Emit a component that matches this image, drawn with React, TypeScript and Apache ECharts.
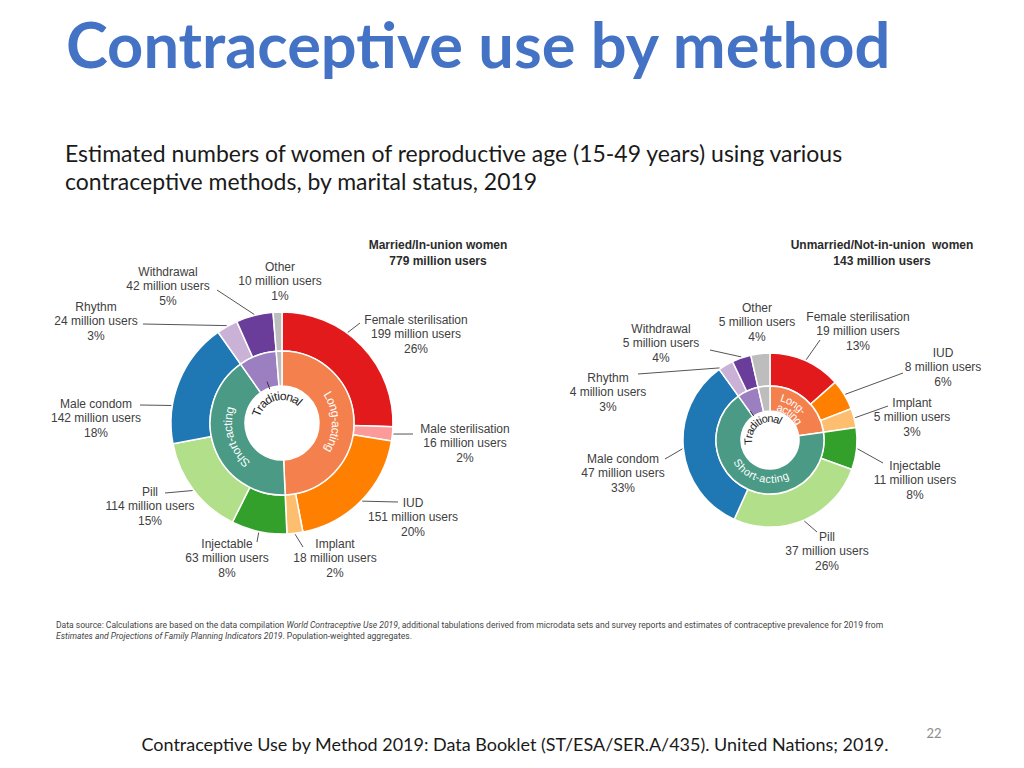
import React, { useEffect, useRef } from "react";
import * as echarts from "echarts";

// ---------- DATA ----------
const methods = [
  "Female sterilisation",
  "Male sterilisation",
  "IUD",
  "Implant",
  "Injectable",
  "Pill",
  "Male condom",
  "Rhythm",
  "Withdrawal",
  "Other",
];
const methodGroup = [
  "Long-acting", "Long-acting", "Long-acting", "Long-acting",
  "Short-acting", "Short-acting", "Short-acting",
  "Traditional", "Traditional", "Other",
];
const groups = ["Long-acting", "Short-acting", "Traditional", "Other"];

const marriedUsers = [199, 16, 151, 18, 63, 114, 142, 24, 42, 10];
const marriedPct = [26, 2, 20, 2, 8, 15, 18, 3, 5, 1];
const unmarriedUsers = [19, 0, 8, 5, 11, 37, 47, 4, 5, 5];
const unmarriedPct = [13, 0, 6, 3, 8, 26, 33, 3, 4, 4];

const marriedTitle = ["Married/In-union women", "779 million users"];
const unmarriedTitle = ["Unmarried/Not-in-union  women", "143 million users"];

const pageTitle = "Contraceptive use by method";
const subtitleLines = [
  "Estimated numbers of women of reproductive age (15-49 years) using various",
  "contraceptive methods, by marital status, 2019",
];
const sourceLine1: [string, boolean][] = [
  ["Data source: Calculations are based on the data compilation ", false],
  ["World Contraceptive Use 2019", true],
  [", additional tabulations derived from microdata sets and survey reports and estimates of contraceptive prevalence for 2019 from", false],
];
const sourceLine2: [string, boolean][] = [
  ["Estimates and Projections of Family Planning Indicators 2019", true],
  [". Population-weighted aggregates.", false],
];
const footer = "Contraceptive Use by Method 2019: Data Booklet (ST/ESA/SER.A/435). United Nations; 2019.";
const pageNumber = "22";

// ---------- STYLE / LAYOUT ----------
const methodColors = [
  "#e31a1c", "#fb9a99", "#ff7f00", "#fdbf6f", "#33a02c",
  "#b2df8a", "#1f78b4", "#cab2d6", "#6a3d9a", "#bdbdbd",
];
const groupColors = ["#f4804e", "#4a9a85", "#9b7fc0", "#bdbdbd"];

const LABEL_FONT = '12px "Liberation Sans", Arial, sans-serif';
const LABEL_COLOR = "#404040";
const LINE_COLOR = "#555555";

type LabelSpec = { x: number; y: number; end?: [number, number]; angle?: number };
type InnerText = { text: string; r: number; group: number; offset: number; inward?: boolean; color: string };
type ChartLayout = {
  cx: number; cy: number; radii: [number, number, number];
  titleX: number; titleY: number; innerFont: string;
  labels: (LabelSpec | null)[];
  innerTexts: InnerText[];
  tick: { angleOffset: number; r1: number; r2: number };
};

const marriedLayout: ChartLayout = {
  cx: 282, cy: 423, radii: [37, 72, 111],
  titleX: 438, titleY: 244,
  innerFont: '12px "Liberation Sans", Arial, sans-serif',
  labels: [
    { x: 416, y: 320, angle: 36, end: [360, 323] },
    { x: 465, y: 429, end: [413, 434] },
    { x: 413, y: 503, end: [398, 502] },
    { x: 335, y: 544, end: [303, 547] },
    { x: 227, y: 544, end: [257, 542] },
    { x: 150, y: 492, end: [165, 493] },
    { x: 96, y: 404, angle: 279, end: [140, 405] },
    { x: 96, y: 307, end: [143, 324] },
    { x: 168, y: 272, end: [217, 290] },
    { x: 280, y: 267 },
  ],
  innerTexts: [
    { text: "Long-acting", r: 54, group: 0, offset: 0, color: "#ffffff" },
    { text: "Short-acting", r: 54, group: 1, offset: 2, color: "#ffffff" },
    { text: "Traditional", r: 27, group: 2, offset: 4, color: "#222222" },
  ],
  tick: { angleOffset: 0, r1: 36, r2: 44 },
};

const unmarriedLayout: ChartLayout = {
  cx: 770, cy: 440, radii: [29, 54, 87],
  titleX: 882, titleY: 244,
  innerFont: '11px "Liberation Sans", Arial, sans-serif',
  labels: [
    { x: 858, y: 317, end: [820, 340] },
    null,
    { x: 943, y: 353, end: [903, 373] },
    { x: 912, y: 403, end: [888, 406] },
    { x: 915, y: 466, end: [883, 463] },
    { x: 827, y: 537, end: [817, 532] },
    { x: 623, y: 459, end: [665, 459] },
    { x: 608, y: 378, angle: 325, end: [638, 374] },
    { x: 661, y: 329, end: [710, 350] },
    { x: 757, y: 308 },
  ],
  innerTexts: [
    { text: "Long-", r: 44, group: 0, offset: -8, color: "#ffffff" },
    { text: "acting", r: 34, group: 0, offset: -4, color: "#ffffff" },
    { text: "Short-acting", r: 39, group: 1, offset: -7, inward: true, color: "#ffffff" },
    { text: "Traditional", r: 22, group: 2, offset: -11, color: "#222222" },
  ],
  tick: { angleOffset: -10, r1: 29, r2: 35 },
};

// ---------- HELPERS ----------
const measureCanvas = typeof document !== "undefined" ? document.createElement("canvas") : null;
const mctx = measureCanvas ? measureCanvas.getContext("2d") : null;

function textWidth(text: string, font: string) {
  if (!mctx) return text.length * 6;
  mctx.font = font;
  return mctx.measureText(text).width;
}

function fitSize(text: string, weight: string, family: string, target: number) {
  const w = textWidth(text, `${weight} 100px ${family}`);
  return (100 * target) / w;
}

const rad = (d: number) => (d * Math.PI) / 180;

function polar(cx: number, cy: number, r: number, deg: number): [number, number] {
  return [cx + r * Math.sin(rad(deg)), cy - r * Math.cos(rad(deg))];
}

function arcText(cx: number, cy: number, r: number, text: string, centerDeg: number, font: string, fill: string, inward = false) {
  const chars = Array.from(text);
  const widths = chars.map((ch) => textWidth(ch, font));
  const total = widths.reduce((a, b) => a + b, 0);
  const dir = inward ? -1 : 1;
  const c = rad(centerDeg);
  let acc = 0;
  const els: any[] = [];
  chars.forEach((ch, i) => {
    const mid = acc + widths[i] / 2;
    acc += widths[i];
    const th = c + (dir * (mid - total / 2)) / r;
    const x = cx + r * Math.sin(th);
    const y = cy - r * Math.cos(th);
    const rotation = inward ? Math.PI - th : -th;
    els.push({
      type: "text", x, y, rotation, z: 100, silent: true,
      style: { text: ch, font, fill, align: "center", verticalAlign: "middle", textAlign: "center", textVerticalAlign: "middle" },
    });
  });
  return els;
}

function sliceAngles(values: number[]) {
  const total = values.reduce((a, b) => a + b, 0);
  let acc = 0;
  return values.map((v) => {
    const s = (acc / total) * 360;
    acc += v;
    const e = (acc / total) * 360;
    return { start: s, end: e, mid: (s + e) / 2 };
  });
}

function buildChart(values: number[], pcts: number[], title: string[], L: ChartLayout) {
  const [r0, r1, r2] = L.radii;
  const groupValues = groups.map((g) =>
    values.reduce((s, v, i) => (methodGroup[i] === g ? s + v : s), 0)
  );
  const outerData = methods
    .map((m, i) => ({ name: m, value: values[i], itemStyle: { color: methodColors[i] } }))
    .filter((d) => d.value > 0);
  const innerData = groups.map((g, i) => ({ name: g, value: groupValues[i], itemStyle: { color: groupColors[i] } }));

  const common = {
    type: "pie",
    center: [L.cx, L.cy],
    startAngle: 90,
    clockwise: true,
    silent: true,
    label: { show: false },
    labelLine: { show: false },
    emphasis: { disabled: true },
    itemStyle: { borderColor: "#ffffff", borderWidth: 1.5 },
  };
  const series = [
    { ...common, name: title[0] + " methods", radius: [r1, r2], data: outerData },
    { ...common, name: title[0] + " groups", radius: [r0, r1], data: innerData },
  ];

  const outerAngles = sliceAngles(values);
  const innerAngles = sliceAngles(groupValues);
  const els: any[] = [];

  // chart title
  els.push({
    type: "text", x: L.titleX, y: L.titleY - 7, z: 100, silent: true,
    style: {
      text: title.join("\n"), font: 'bold 12px "Liberation Sans", Arial, sans-serif', lineHeight: 16,
      fill: "#2b2b2b", align: "center", verticalAlign: "top", textAlign: "center", textVerticalAlign: "top",
    },
  });

  // outer labels
  methods.forEach((m, i) => {
    const spec = L.labels[i];
    if (!spec || values[i] <= 0) return;
    els.push({
      type: "text", x: spec.x, y: spec.y - 7.5, z: 100, silent: true,
      style: {
        text: `${m}\n${values[i]} million users\n${pcts[i]}%`,
        font: LABEL_FONT, lineHeight: 14.6, fill: LABEL_COLOR,
        align: "center", verticalAlign: "top", textAlign: "center", textVerticalAlign: "top",
      },
    });
    if (spec.end) {
      const ang = spec.angle != null ? spec.angle : outerAngles[i].mid;
      const [sx, sy] = polar(L.cx, L.cy, r2 + 1, ang);
      els.push({
        type: "line", z: 100, silent: true,
        shape: { x1: sx, y1: sy, x2: spec.end[0], y2: spec.end[1] },
        style: { stroke: LINE_COLOR, lineWidth: 1 },
      });
    }
  });

  // inner ring curved texts
  L.innerTexts.forEach((t) => {
    const center = innerAngles[t.group].mid + t.offset;
    els.push(...arcText(L.cx, L.cy, t.r, t.text, center, L.innerFont, t.color, !!t.inward));
  });

  // traditional tick
  const tAng = innerAngles[2].mid + L.tick.angleOffset;
  const [ax, ay] = polar(L.cx, L.cy, L.tick.r1, tAng);
  const [bx, by] = polar(L.cx, L.cy, L.tick.r2, tAng);
  els.push({
    type: "line", z: 100, silent: true,
    shape: { x1: ax, y1: ay, x2: bx, y2: by },
    style: { stroke: "#333333", lineWidth: 1 },
  });

  return { series, els };
}

function richLine(segs: [string, boolean][], size: number, family: string, color: string) {
  return {
    text: segs.map(([s, it]) => `{${it ? "i" : "n"}|${s}}`).join(""),
    rich: {
      n: { fontSize: size, fontFamily: family, fill: color },
      i: { fontSize: size, fontFamily: family, fontStyle: "italic", fill: color },
    },
  };
}

function segWidth(segs: [string, boolean][], family: string) {
  return segs.reduce((s, [t, it]) => s + textWidth(t, `${it ? "italic " : ""}100px ${family}`), 0);
}

export default function App() {
  const ref = useRef<HTMLDivElement>(null);

  useEffect(() => {
    document.body.style.margin = "0";
    if (!ref.current) return;
    const chart = echarts.init(ref.current, undefined, { renderer: "svg" });

    const left = buildChart(marriedUsers, marriedPct, marriedTitle, marriedLayout);
    const right = buildChart(unmarriedUsers, unmarriedPct, unmarriedTitle, unmarriedLayout);

    const titleFamily = 'Lato, "Open Sans", sans-serif';
    const titleSize = fitSize(pageTitle, "bold", titleFamily, 826);
    const subSize = fitSize(subtitleLines[0], "normal", titleFamily, 780);
    const footSize = fitSize(footer, "normal", titleFamily, 748);
    const srcFamily = 'Roboto, "Liberation Sans", sans-serif';
    const srcSize = (100 * 828) / segWidth(sourceLine1, srcFamily);

    const pageEls: any[] = [
      {
        type: "text", x: 66, y: 43, z: 100, silent: true,
        style: {
          text: pageTitle, font: `bold ${titleSize}px ${titleFamily}`, fill: "#4472c4",
          align: "left", verticalAlign: "middle", textAlign: "left", textVerticalAlign: "middle",
        },
      },
      ...subtitleLines.map((line, i) => ({
        type: "text", x: 65, y: 153 + i * 28, z: 100, silent: true,
        style: {
          text: line, font: `${subSize}px ${titleFamily}`, fill: "#1a1a1a",
          align: "left", verticalAlign: "middle", textAlign: "left", textVerticalAlign: "middle",
        },
      })),
      ...[sourceLine1, sourceLine2].map((segs, i) => ({
        type: "text", x: 56, y: 625 + i * 11, z: 100, silent: true,
        style: {
          ...richLine(segs, srcSize, srcFamily, "#444444"),
          align: "left", verticalAlign: "middle", textAlign: "left", textVerticalAlign: "middle",
        },
      })),
      {
        type: "text", x: 515, y: 744, z: 100, silent: true,
        style: {
          text: footer, font: `${footSize}px ${titleFamily}`, fill: "#1a1a1a",
          align: "center", verticalAlign: "middle", textAlign: "center", textVerticalAlign: "middle",
        },
      },
      {
        type: "text", x: 934, y: 733, z: 100, silent: true,
        style: {
          text: pageNumber, font: `13px ${titleFamily}`, fill: "#8c8c8c",
          align: "center", verticalAlign: "middle", textAlign: "center", textVerticalAlign: "middle",
        },
      },
    ];

    chart.setOption({
      animation: false,
      backgroundColor: "#ffffff",
      series: [...left.series, ...right.series],
      graphic: { elements: [...pageEls, ...left.els, ...right.els] },
    });

    return () => chart.dispose();
  }, []);

  return <div ref={ref} style={{ width: 1024, height: 768 }} />;
}
